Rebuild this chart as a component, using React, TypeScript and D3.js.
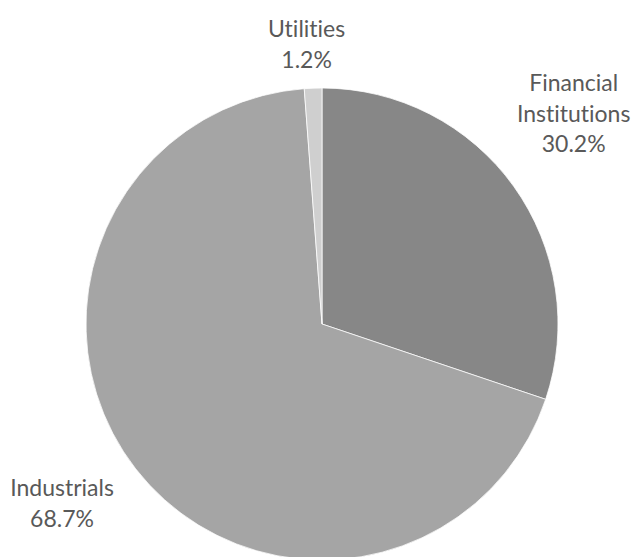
import React from 'react';
import * as d3 from 'd3';

// Sector split
const sectors = ['Financial Institutions', 'Industrials', 'Utilities'];
const shares = [30.2, 68.7, 1.2];
const labelLines = [['Financial', 'Institutions'], ['Industrials'], ['Utilities']];
const sliceColors = ['#878787', '#a5a5a5', '#cfcfcf'];

const width = 634;
const height = 557;
const cx = 322;
const cy = 324;
const radius = 236;

// label placement (Excel "best fit" style), polar around the centre
const labelPlacement = [
  { angleShift: -4.2, dist: 328 },
  { angleShift: 3.2, dist: 316 },
  { angleShift: -1, dist: 280 },
];

const fontFamily = 'Lato, "Open Sans", sans-serif';
const lineHeight = 30.5;

export default function App() {
  const data = sectors.map((name, i) => ({ name, value: shares[i], i }));

  const pie = d3.pie<(typeof data)[number]>()
    .value(d => d.value)
    .sort(null);

  const arc = d3.arc<d3.PieArcDatum<(typeof data)[number]>>()
    .innerRadius(0)
    .outerRadius(radius);

  const arcs = pie(data);

  return (
    <svg
      width={width}
      height={height}
      style={{ position: 'absolute', left: 0, top: 0, background: '#fff' }}
    >
      <g transform={`translate(${cx},${cy})`}>
        {arcs.map(a => (
          <path
            key={a.data.name}
            d={arc(a) || ''}
            fill={sliceColors[a.data.i]}
            stroke="#ffffff"
            strokeWidth={0.75}
          />
        ))}
        {arcs.map(a => {
          const p = labelPlacement[a.data.i];
          const mid = (a.startAngle + a.endAngle) / 2 + (p.angleShift * Math.PI) / 180;
          const x = Math.sin(mid) * p.dist;
          const y = -Math.cos(mid) * p.dist;
          const lines = [...labelLines[a.data.i], `${a.data.value.toFixed(1)}%`];
          const firstBaseline = y - ((lines.length - 1) * lineHeight) / 2 + 8;
          return (
            <text
              key={a.data.name}
              x={x}
              textAnchor="middle"
              fill="#595959"
              fontFamily={fontFamily}
              fontSize={23}
              style={{ fontVariantLigatures: 'none', fontFeatureSettings: '"liga" 0' }}
            >
              {lines.map((line, k) => (
                <tspan key={k} x={x} y={firstBaseline + k * lineHeight}>
                  {line}
                </tspan>
              ))}
            </text>
          );
        })}
      </g>
    </svg>
  );
}
